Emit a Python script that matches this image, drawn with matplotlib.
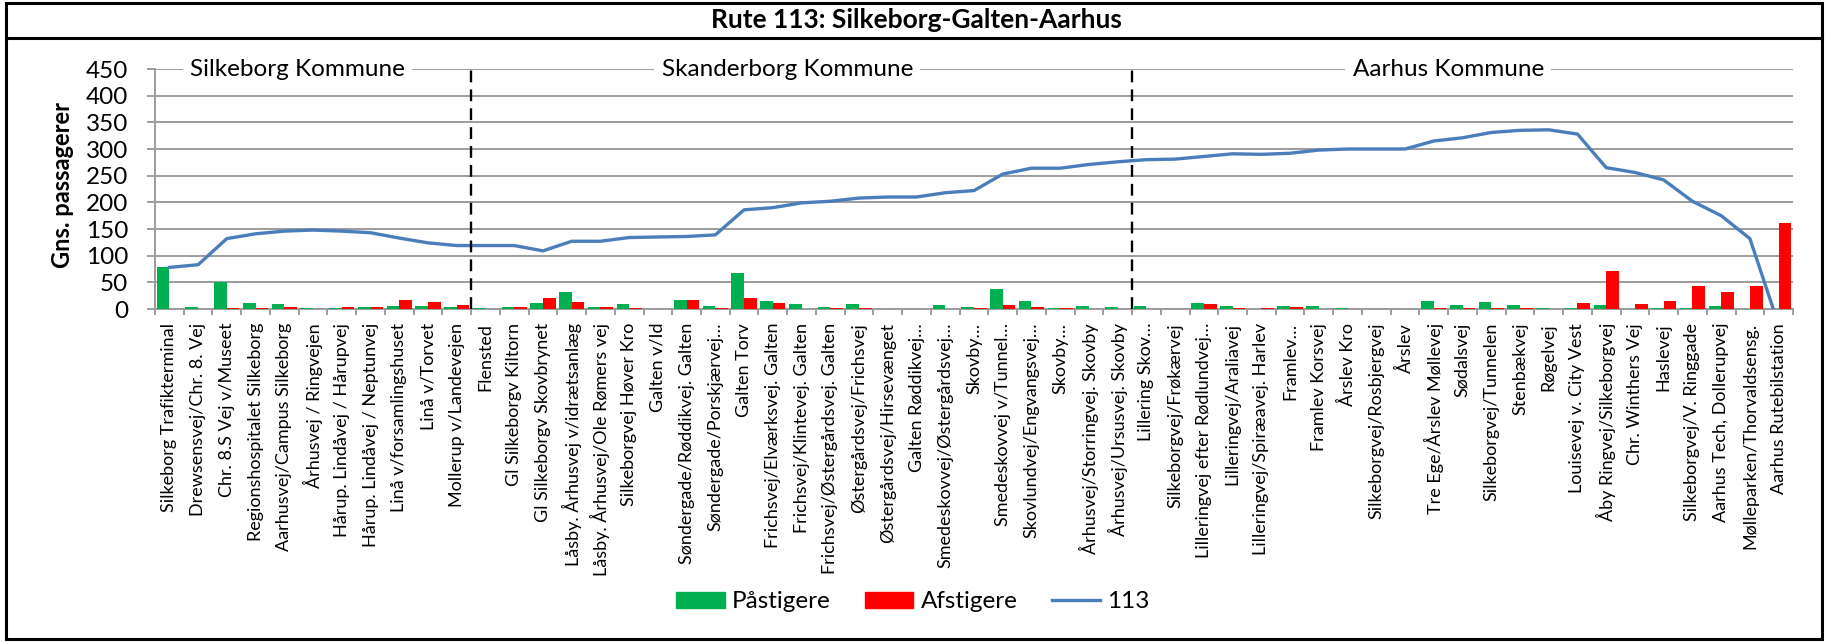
import numpy as np
import matplotlib
matplotlib.use('Agg')
import matplotlib.pyplot as plt
from matplotlib.patches import Rectangle, Patch
from matplotlib.lines import Line2D

plt.rcParams['font.family'] = ['Lato', 'DejaVu Sans']

# Data
stops = [
    'Silkeborg Trafikterminal', 'Drewsensvej/Chr. 8. Vej', 'Chr. 8.S Vej v/Museet',
    'Regionshospitalet Silkeborg', 'Aarhusvej/Campus Silkeborg', 'Århusvej / Ringvejen',
    'Hårup. Lindåvej / Hårupvej', 'Hårup. Lindåvej / Neptunvej', 'Linå v/forsamlingshuset',
    'Linå v/Torvet', 'Mollerup v/Landevejen', 'Flensted', 'Gl Silkeborgv Kiltorn',
    'Gl Silkeborgv Skovbrynet', 'Låsby. Århusvej v/idrætsanlæg', 'Låsby. Århusvej/Ole Rømers vej',
    'Silkeborgvej Høver Kro', 'Galten v/Id', 'Søndergade/Røddikvej. Galten',
    'Søndergade/Porskjærvej…', 'Galten Torv', 'Frichsvej/Elværksvej. Galten',
    'Frichsvej/Klintevej. Galten', 'Frichsvej/Østergårdsvej. Galten', 'Østergårdsvej/Frichsvej',
    'Østergårdsvej/Hirsevænget', 'Galten Røddikvej…', 'Smedeskovvej/Østergårdsvej…',
    'Skovby…', 'Smedeskovvej v/Tunnel…', 'Skovlundvej/Engvangsvej…', 'Skovby…',
    'Århusvej/Storringvej. Skovby', 'Århusvej/Ursusvej. Skovby', 'Lillering Skov…',
    'Silkeborgvej/Frøkærvej', 'Lilleringvej efter Rødlundvej…', 'Lilleringvej/Araliavej',
    'Lilleringvej/Spiræavej. Harlev', 'Framlev…', 'Framlev Korsvej', 'Årslev Kro',
    'Silkeborgvej/Rosbjergvej', 'Årslev', 'Tre Ege/Årslev Møllevej', 'Sødalsvej',
    'Silkeborgvej/Tunnelen', 'Stenbækvej', 'Røgelvej', 'Louisevej v. City Vest',
    'Åby Ringvej/Silkeborgvej', 'Chr. Winthers Vej', 'Haslevej', 'Silkeborgvej/V. Ringgade',
    'Aarhus Tech, Dollerupvej', 'Mølleparken/Thorvaldsensg.', 'Aarhus Rutebilstation',
]
paastigere = [78, 4, 50, 12, 9, 2, 2, 3, 6, 5, 3, 1, 4, 11, 32, 3, 9, 0, 17.5, 5,
              68, 15.6, 10, 4.4, 9, 0, 0, 7.5, 4.4, 37.5, 15, 1, 6, 4.4, 5, 0, 12, 5.6,
              0, 6, 6, 1, 0, 0, 15.6, 8, 12.5, 7.5, 1, 2.5, 8, 0, 2.5, 2, 5.6, 0, 0]
afstigere = [0, 0, 2, 2.5, 3, 0.5, 4, 4, 16, 14, 8, 0.5, 4, 21, 14, 3, 2, 0, 16, 2.5,
             21, 10.6, 0.6, 2.5, 1, 0, 0, 0, 2, 7, 4, 1, 0, 0.5, 0, 0, 8.7, 1, 1, 4.4,
             0.5, 0, 0, 0, 1, 2.5, 2.5, 2.5, 0, 11, 71, 10, 15.6, 44, 32, 44, 162]
belastning = [78, 83, 132, 141, 146, 148, 146, 143, 133, 124, 119, 119, 119, 109, 127,
              127, 134, 135, 136, 139, 186, 190, 199, 202, 208, 210, 210, 218, 222, 253,
              264, 264, 271, 276, 280, 281, 286, 291, 290, 292, 298, 300, 300, 300, 315,
              321, 331, 335, 336, 328, 265, 256, 242, 202, 175, 132, -30]
kommuner = ['Silkeborg Kommune', 'Skanderborg Kommune', 'Aarhus Kommune']
kommune_label_x = [4.45, 21.5, 44.5]
kommune_grænser = [10.5, 33.5]

W, H = 1827, 642
fig = plt.figure(figsize=(W / 100, H / 100), dpi=100)
ax = fig.add_axes([155 / W, 1 - 309 / H, (1793 - 155) / W, (309 - 69) / H])

x = np.arange(len(stops))
bw = 0.44
ax.bar(x - bw / 2, paastigere, bw, color='#00B050', zorder=3, label='Påstigere')
ax.bar(x + bw / 2, afstigere, bw, color='#FF0000', zorder=3, label='Afstigere')
ax.plot(x, belastning, color='#4A7EBB', lw=2.4, zorder=4, label='113')

for b in kommune_grænser:
    ax.plot([b, b], [0, 450], color='black', lw=1.7, dashes=(5, 3), zorder=5)

for lbl, lx in zip(kommuner, kommune_label_x):
    ax.text(lx, 450, lbl, ha='center', va='center', fontsize=17.5, zorder=6,
            bbox=dict(facecolor='white', edgecolor='none', pad=5))

grid_c = '#9C9C9C'
ax.set_xlim(-0.5, len(stops) - 0.5)
ax.set_ylim(0, 450)
ax.set_yticks(range(0, 451, 50))
ax.yaxis.grid(True, color=grid_c, lw=1.4, zorder=0)
ax.tick_params(axis='y', length=5.8, width=1.4, color=grid_c, pad=13.5, labelsize=17.5)
ax.set_xticks(x)
ax.set_xticklabels(stops, rotation=90, fontsize=13)
ax.set_xticks(np.arange(-0.5, len(stops), 1), minor=True)
ax.tick_params(axis='x', which='major', length=0, pad=10)
ax.tick_params(axis='x', which='minor', length=4.5, width=1.4, color=grid_c)
for s in ['top', 'right']:
    ax.spines[s].set_visible(False)
for s in ['left', 'bottom']:
    ax.spines[s].set_color(grid_c)
    ax.spines[s].set_linewidth(1.4)
ax.set_axisbelow(True)

fig.text(63 / W, 1 - 185 / H, 'Gns. passagerer', rotation=90, ha='center', va='center',
         fontsize=17, fontweight='bold')

# frame and title row
fig.add_artist(Rectangle((6 / W, 3 / H), (1822 - 6) / W, (639 - 3) / H,
                         transform=fig.transFigure, fill=False, lw=2.2, ec='black'))
fig.add_artist(Line2D([6 / W, 1822 / W], [1 - 38 / H, 1 - 38 / H],
                      transform=fig.transFigure, color='black', lw=2.2))
fig.text(916 / W, 1 - 20 / H, 'Rute 113: Silkeborg-Galten-Aarhus', ha='center', va='center',
         fontsize=19, fontweight='bold')

handles = [Patch(color='#00B050', label='Påstigere'),
           Patch(color='#FF0000', label='Afstigere'),
           Line2D([], [], color='#4A7EBB', lw=2.4, label='113')]
fig.legend(handles=handles, loc='center', bbox_to_anchor=(913 / W, 1 - 602 / H), ncol=3,
           frameon=False, fontsize=17.5, handlelength=2.0, handleheight=0.65,
           handletextpad=0.3, columnspacing=1.4)

fig.savefig('out.png', dpi=100)
